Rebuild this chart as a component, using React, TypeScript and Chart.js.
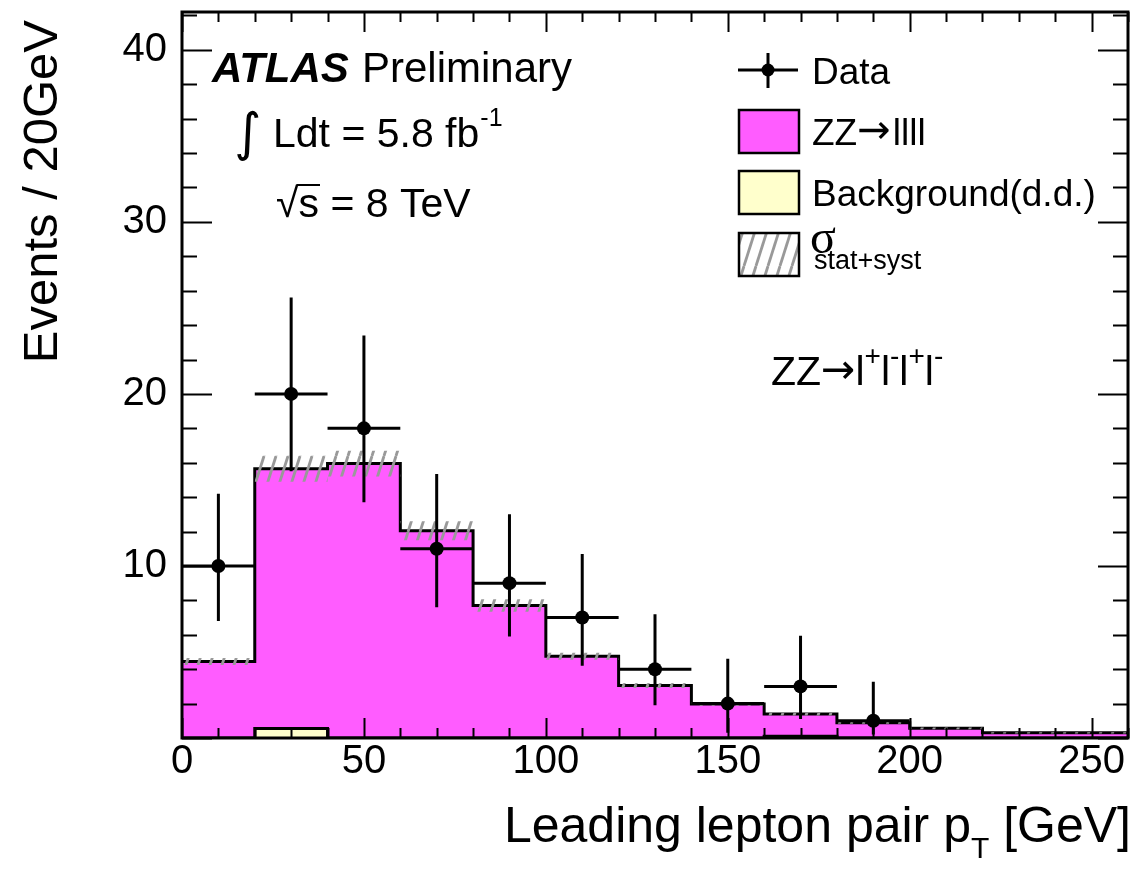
import React, { useEffect, useRef } from 'react';
import { Chart, registerables } from 'chart.js';

Chart.register(...registerables);

// ---- data ----
const binEdges = [0, 20, 40, 60, 80, 100, 120, 140, 160, 180, 200, 220, 240, 260];
const zzValues = [4.45, 15.1, 15.95, 12.05, 7.7, 4.75, 3.05, 1.98, 1.29, 0.89, 0.56, 0.3, 0.3];
const bkgValues = [0, 0.55, 0, 0, 0, 0, 0, 0, 0.1, 0, 0, 0, 0];
const systErr = [0.2, 0.75, 0.75, 0.55, 0.36, 0.2, 0.15, 0.1, 0.08, 0.06, 0.05, 0.04, 0.04];
const dataCounts = [10, 20, 18, 11, 9, 7, 4, 2, 3, 1];
const dataLow = [6.8, 15.5, 13.7, 7.6, 5.9, 4.2, 1.9, 0.3, 1.1, 0.2];
const dataHigh = [14.2, 25.6, 23.4, 15.35, 13.0, 10.7, 7.2, 4.6, 5.95, 3.27];
const xTickValues = [0, 50, 100, 150, 200, 250];
const yTickValues = [10, 20, 30, 40];
const xMinorStep = 10;
const yMinorStep = 2;
const xMax = 260;
const yMax = 42.2;

const FONT = '"Liberation Sans", Arial, Helvetica, sans-serif';
const DV = '"DejaVu Sans", sans-serif';
const PINK = '#ff5cff';
const CREAM = '#ffffcc';

function stepPoints(vals: number[]) {
  const pts = vals.map((v, i) => ({ x: binEdges[i], y: v }));
  pts.push({ x: binEdges[binEdges.length - 1], y: vals[vals.length - 1] });
  return pts;
}

function makeHatch(): CanvasPattern | string {
  const c = document.createElement('canvas');
  c.width = 12;
  c.height = 38;
  const g = c.getContext('2d');
  if (!g) return '#999';
  g.strokeStyle = '#999999';
  g.lineWidth = 2.8;
  for (const dx of [-12, 0, 12]) {
    g.beginPath();
    g.moveTo(dx, 38);
    g.lineTo(dx + 12, 0);
    g.stroke();
  }
  return g.createPattern(c, 'repeat') || '#999';
}

export default function App() {
  const ref = useRef<HTMLCanvasElement | null>(null);

  useEffect(() => {
    const canvas = ref.current;
    if (!canvas) return;
    const hatch = makeHatch();

    const total = zzValues.map((v, i) => v + bkgValues[i]);
    const lower = total.map((v, i) => v - systErr[i]);
    const upper = total.map((v, i) => v + systErr[i]);
    const centers = dataCounts.map((_, i) => (binEdges[i] + binEdges[i + 1]) / 2);

    const errorBars = {
      id: 'errorBars',
      afterDatasetsDraw(chart: any) {
        const { ctx } = chart;
        const xs = chart.scales.x;
        const ys = chart.scales.y;
        ctx.save();
        ctx.strokeStyle = '#000';
        ctx.lineWidth = 3;
        dataCounts.forEach((n, i) => {
          const cx = xs.getPixelForValue(centers[i]);
          const cy = ys.getPixelForValue(n);
          ctx.beginPath();
          ctx.moveTo(cx, ys.getPixelForValue(dataLow[i]));
          ctx.lineTo(cx, ys.getPixelForValue(dataHigh[i]));
          ctx.moveTo(xs.getPixelForValue(binEdges[i]), cy);
          ctx.lineTo(xs.getPixelForValue(binEdges[i + 1]), cy);
          ctx.stroke();
        });
        // ticks inside the frame on all sides
        const ca = chart.chartArea;
        ctx.lineWidth = 2;
        ctx.beginPath();
        for (let v = 0; v <= xMax; v += xMinorStep) {
          const px = Math.round(xs.getPixelForValue(v)) + 0.5;
          const L = v % 50 === 0 ? 20 : 10;
          ctx.moveTo(px, ca.bottom);
          ctx.lineTo(px, ca.bottom - L);
          ctx.moveTo(px, ca.top);
          ctx.lineTo(px, ca.top + L);
        }
        for (let v = 0; v <= yMax; v += yMinorStep) {
          const py = Math.round(ys.getPixelForValue(v)) + 0.5;
          const L = v % 10 === 0 ? 30 : 15;
          ctx.moveTo(ca.left, py);
          ctx.lineTo(ca.left + L, py);
          ctx.moveTo(ca.right, py);
          ctx.lineTo(ca.right - L, py);
        }
        ctx.stroke();
        ctx.lineWidth = 3;
        ctx.strokeRect(ca.left, ca.top, ca.right - ca.left, ca.bottom - ca.top);
        ctx.restore();
      },
    };

    const texts = {
      id: 'texts',
      afterDraw(chart: any) {
        const { ctx } = chart;
        ctx.save();
        ctx.fillStyle = '#000';
        ctx.textBaseline = 'alphabetic';
        ctx.textAlign = 'left';

        // ATLAS Preliminary
        ctx.font = `italic bold 42px ${FONT}`;
        ctx.fillText('ATLAS', 212, 82);
        ctx.font = `42px ${FONT}`;
        ctx.fillText('Preliminary', 362, 82);

        // integral L dt
        ctx.font = `52px ${DV}`;
        ctx.fillText('\u222B', 234, 150);
        ctx.font = `41px ${FONT}`;
        ctx.fillText('Ldt = 5.8 fb', 273, 147);
        const w1 = ctx.measureText('Ldt = 5.8 fb').width;
        ctx.font = `25px ${FONT}`;
        ctx.fillText('-1', 273 + w1 + 1, 126);

        // sqrt s
        ctx.font = `41px ${FONT}`;
        ctx.fillText('\u221A', 276, 217);
        const ws = ctx.measureText('\u221A').width;
        ctx.fillText('s = 8 TeV', 276 + ws, 217);
        const wss = ctx.measureText('s').width;
        ctx.lineWidth = 2;
        ctx.beginPath();
        ctx.moveTo(276 + ws - 2, 185);
        ctx.lineTo(276 + ws + wss + 1, 185);
        ctx.stroke();

        // legend
        ctx.strokeStyle = '#000';
        ctx.lineWidth = 3;
        ctx.beginPath();
        ctx.moveTo(738, 70);
        ctx.lineTo(798, 70);
        ctx.moveTo(768, 53);
        ctx.lineTo(768, 88);
        ctx.stroke();
        ctx.beginPath();
        ctx.arc(768, 70, 6.5, 0, Math.PI * 2);
        ctx.fill();

        const box = (y: number, fill: any) => {
          ctx.fillStyle = fill;
          ctx.fillRect(739, y, 60, 43);
          ctx.lineWidth = 2.5;
          ctx.strokeStyle = '#000';
          ctx.strokeRect(739, y, 60, 43);
          ctx.fillStyle = '#000';
        };
        box(110, PINK);
        box(171, CREAM);
        box(233, hatch);

        ctx.font = `37px ${FONT}`;
        ctx.fillText('Data', 812, 84);
        ctx.fillText('ZZ', 812, 145);
        let ax = 812 + ctx.measureText('ZZ').width;
        ctx.font = `40px ${DV}`;
        ctx.fillText('\u2192', ax, 143);
        ax += ctx.measureText('\u2192').width;
        ctx.font = `37px ${FONT}`;
        ctx.fillText('llll', ax + 2, 145);
        ctx.fillText('Background(d.d.)', 812, 206);
        ctx.font = `48px "Liberation Serif", "DejaVu Serif", serif`;
        ctx.fillText('\u03C3', 810, 253);
        ctx.font = `27px ${FONT}`;
        ctx.fillText('stat+syst', 814, 269);

        // process label
        ctx.font = `41px ${FONT}`;
        let x = 771;
        const yb = 385;
        ctx.fillText('ZZ', x, yb);
        x += ctx.measureText('ZZ').width;
        ctx.font = `41px ${DV}`;
        ctx.fillText('\u2192', x, yb - 2);
        x += ctx.measureText('\u2192').width;
        ctx.font = `41px ${FONT}`;
        ctx.fillText('l', x, yb);
        x += ctx.measureText('l').width;
        const parts = ['+', 'l', '-', 'l', '+', 'l', '-'];
        parts.forEach((p, i) => {
          if (i % 2 === 0) {
            ctx.font = `28px ${FONT}`;
            ctx.fillText(p, x, yb - 20);
            x += ctx.measureText(p).width;
          } else {
            ctx.font = `41px ${FONT}`;
            ctx.fillText(p, x, yb);
            x += ctx.measureText(p).width;
          }
        });

        // axis titles
        ctx.font = `50px ${FONT}`;
        const tA = 'Leading lepton pair p';
        const tB = ' [GeV]';
        const wA = ctx.measureText(tA).width;
        const wB = ctx.measureText(tB).width;
        ctx.font = `30px ${FONT}`;
        const wT = ctx.measureText('T').width;
        const start = 1131 - wA - wB - wT;
        ctx.font = `50px ${FONT}`;
        ctx.fillText(tA, start, 842);
        ctx.fillText(tB, start + wA + wT, 842);
        ctx.font = `30px ${FONT}`;
        ctx.fillText('T', start + wA, 858);

        ctx.save();
        ctx.translate(57, 20);
        ctx.rotate(-Math.PI / 2);
        ctx.textAlign = 'right';
        ctx.font = `49px ${FONT}`;
        ctx.fillText('Events / 20GeV', 0, 0);
        ctx.restore();

        ctx.restore();
      },
    };

    const chart = new Chart(canvas, {
      type: 'line',
      data: {
        datasets: [
          {
            label: 'ZZ\u2192llll',
            data: stepPoints(total),
            stepped: true,
            fill: 'origin',
            backgroundColor: PINK,
            borderColor: '#000',
            borderWidth: 3,
            pointRadius: 0,
            order: 5,
          },
          {
            label: 'Background(d.d.)',
            data: stepPoints(bkgValues),
            stepped: true,
            fill: 'origin',
            backgroundColor: CREAM,
            borderColor: '#000',
            borderWidth: 3,
            pointRadius: 0,
            order: 4,
          },
          {
            label: 'band low',
            data: stepPoints(lower),
            stepped: true,
            fill: false,
            borderWidth: 0,
            borderColor: 'rgba(0,0,0,0)',
            pointRadius: 0,
            order: 3,
          },
          {
            label: 'sigma',
            data: stepPoints(upper),
            stepped: true,
            fill: '-1',
            backgroundColor: hatch as any,
            borderWidth: 0,
            borderColor: 'rgba(0,0,0,0)',
            pointRadius: 0,
            order: 3,
          },
          {
            label: 'Data',
            data: dataCounts.map((n, i) => ({ x: centers[i], y: n })),
            showLine: false,
            pointRadius: 7,
            pointBackgroundColor: '#000',
            pointBorderColor: '#000',
            pointBorderWidth: 0,
            order: 1,
          },
        ],
      },
      options: {
        animation: false,
        responsive: false,
        devicePixelRatio: 1,
        layout: { padding: { left: 0, right: 4, top: 12, bottom: 0 } },
        plugins: { legend: { display: false }, tooltip: { enabled: false } },
        scales: {
          x: {
            type: 'linear',
            min: 0,
            max: xMax,
            afterFit: (s: any) => {
              s.height = 131;
              s.paddingLeft = 0;
              s.paddingRight = 0;
            },
            afterBuildTicks: (s: any) => {
              s.ticks = xTickValues.map((v) => ({ value: v }));
            },
            grid: { display: false, drawTicks: false },
            border: { display: false },
            ticks: {
              padding: 0,
              color: '#000',
              maxRotation: 0,
              autoSkip: false,
              font: { family: FONT, size: 40 },
            },
          },
          y: {
            type: 'linear',
            min: 0,
            max: yMax,
            afterFit: (s: any) => {
              s.width = 182;
              s.paddingTop = 0;
              s.paddingBottom = 0;
            },
            afterBuildTicks: (s: any) => {
              s.ticks = yTickValues.map((v) => ({ value: v }));
            },
            grid: { display: false, drawTicks: false },
            border: { display: false },
            ticks: {
              padding: 15,
              color: '#000',
              autoSkip: false,
              font: { family: FONT, size: 40 },
            },
          },
        },
      },
      plugins: [errorBars, texts],
    });

    return () => chart.destroy();
  }, []);

  return (
    <div style={{ position: 'absolute', left: 0, top: 0, width: 1135, height: 869, background: '#fff' }}>
      <canvas ref={ref} width={1135} height={869} style={{ width: 1135, height: 869, display: 'block' }} />
    </div>
  );
}
